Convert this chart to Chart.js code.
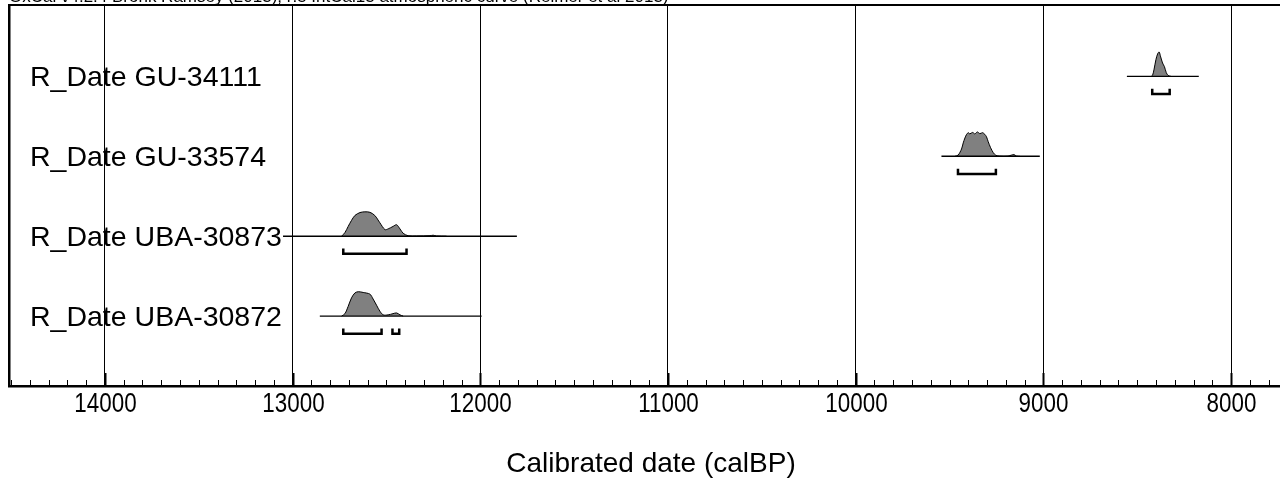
<!DOCTYPE html>
<html>
<head>
<meta charset="utf-8">
<script src="https://cdn.jsdelivr.net/npm/chart.js@4.4.0/dist/chart.umd.min.js"></script>
<style>
  html, body { margin: 0; padding: 0; background: #fff; overflow: hidden; }
  #wrap { position: relative; width: 1293px; height: 485px; }
</style>
</head>
<body>
<div id="wrap"><canvas id="plot"></canvas></div>
<script>

const header = 'OxCal v4.2.4 Bronk Ramsey (2013); r:5 IntCal13 atmospheric curve (Reimer et al 2013)';

// rows bottom -> top
const names = ['R_Date UBA-30872', 'R_Date UBA-30873', 'R_Date GU-33574', 'R_Date GU-34111'];

// extent of the thin baseline for each date (calBP)
const spans = [[12855, 11993], [13051, 11805], [9543, 9019], [8555, 8172]];

// 95.4% ranges (brackets under each distribution)
const ranges = [
	[[12730, 12526], [12468, 12432]],
	[[12730, 12393]],
	[[9455, 9253]],
	[[8420, 8327]]
];

// relative probability, [calBP, p]
const probUBA30872 = [
	[12739, 0], [12721, 0.1], [12704, 0.4], [12686, 0.75], [12668, 0.95], [12650, 1.0],
	[12624, 0.97], [12588, 0.9], [12571, 0.7], [12553, 0.45], [12535, 0.2], [12517, 0.05],
	[12491, 0.05], [12465, 0.1], [12446, 0.13], [12428, 0.05], [12411, 0]
];
const probUBA30873 = [
	[12739, 0], [12721, 0.15], [12704, 0.4], [12686, 0.65], [12668, 0.85], [12641, 0.97],
	[12615, 1.0], [12588, 0.98], [12562, 0.85], [12535, 0.55], [12508, 0.27], [12491, 0.3],
	[12465, 0.4], [12446, 0.47], [12428, 0.3], [12411, 0.12], [12385, 0.02], [12340, 0.01],
	[12268, 0.02], [12251, 0.04], [12234, 0.01], [12180, 0]
];
const probGU33574 = [
	[9471, 0], [9454, 0.05], [9436, 0.3], [9427, 0.55], [9418, 0.75], [9409, 0.9], [9400, 0.97],
	[9392, 0.92], [9377, 0.98], [9365, 0.92], [9352, 1.0], [9338, 0.93], [9324, 0.97],
	[9312, 0.9], [9303, 0.8], [9294, 0.6], [9281, 0.35], [9267, 0.15], [9253, 0.04],
	[9232, 0.01], [9188, 0.01], [9170, 0.05], [9157, 0.07], [9143, 0.01], [9125, 0]
];
const probGU34111 = [
	[8425, 0], [8418, 0.05], [8410, 0.3], [8400, 0.7], [8390, 0.95], [8383, 1.0], [8375, 0.8],
	[8365, 0.55], [8355, 0.4], [8345, 0.15], [8335, 0.04], [8320, 0]
];

const probs = [probUBA30872, probUBA30873, probGU33574, probGU34111];

const peak = 0.305;     // height of a distribution in row units
const brLow = 0.22;     // bracket bar below baseline
const brHigh = 0.155;   // bracket ends

const datasets = [];

probs.forEach( ( prob, i ) => {

	datasets.push({
		data: spans[i].map( x => ({ x: x, y: i }) ),
		borderColor: '#000',
		borderWidth: 1.4,
		pointRadius: 0,
		fill: false
	});

	datasets.push({
		data: prob.map( ( [x, p] ) => ({ x: x, y: i + p * peak }) ),
		borderColor: '#000',
		borderWidth: 1,
		backgroundColor: '#808080',
		pointRadius: 0,
		tension: 0.3,
		fill: { value: i }
	});

	const br = [];
	ranges[i].forEach( ( [a, b] ) => {
		br.push( { x: a, y: i - brHigh }, { x: a, y: i - brLow }, { x: b, y: i - brLow }, { x: b, y: i - brHigh }, { x: b, y: null } );
	});

	datasets.push({
		data: br,
		borderColor: '#000',
		borderWidth: 2.5,
		pointRadius: 0,
		fill: false,
		spanGaps: false
	});

});

const font = '"Liberation Sans", Arial, sans-serif';

// inward ticks, narrow tick labels, row names, top frame line and the clipped header
const frame = {
	id: 'frame',
	afterDraw( chart ) {
		const { ctx, chartArea: a, scales: { x, y } } = chart;
		ctx.save();
		ctx.strokeStyle = '#000';
		ctx.fillStyle = '#000';
		ctx.lineWidth = 2;
		ctx.beginPath();
		ctx.moveTo( a.left, a.top );
		ctx.lineTo( a.right, a.top );
		ctx.stroke();

		ctx.font = '28px ' + font;
		ctx.textAlign = 'center';
		ctx.textBaseline = 'alphabetic';
		for ( const t of x.ticks ) {
			if ( t.value % 100 ) continue;
			const major = t.value % 1000 === 0;
			const px = Math.round( x.getPixelForValue( t.value ) ) + 0.5;
			ctx.lineWidth = major ? 2 : 1;
			ctx.beginPath();
			ctx.moveTo( px, a.bottom );
			ctx.lineTo( px, a.bottom - ( major ? 13 : 6 ) );
			ctx.stroke();
			if ( major ) {
				ctx.save();
				ctx.translate( px, a.bottom + 26 );
				ctx.scale( 0.8, 1 );
				ctx.fillText( t.label || String( t.value ), 0, 0 );
				ctx.restore();
			}
		}

		ctx.font = '28.5px ' + font;
		ctx.textAlign = 'left';
		names.forEach( ( n, i ) => {
			ctx.fillText( n, a.left + 21, y.getPixelForValue( i ) + 9.5 );
		});

		ctx.font = '17px ' + font;
		ctx.fillText( header, 9, 2 );
		ctx.restore();
	}
};

Chart.defaults.font.family = font;
Chart.defaults.color = '#000';

new Chart( document.getElementById('plot'), {
	type: 'line',
	data: { datasets: datasets },
	plugins: [ frame ],
	options: {
		responsive: true,
		maintainAspectRatio: false,
		animation: false,
		layout: {
			padding: { left: 9, top: 5, right: 0, bottom: 0 }
		},
		plugins: {
			legend: { display: false },
			tooltip: { enabled: false }
		},
		scales: {
			x: {
				type: 'linear',
				reverse: true,
				min: 7670,
				max: 14511,
				afterFit: ( s ) => { s.height = 99; },
				border: { color: '#000', width: 2.5 },
				grid: {
					drawTicks: false,
					lineWidth: 1,
					color: ( c ) => ( c.tick && c.tick.value % 1000 === 0 ) ? '#000' : 'rgba(0,0,0,0)'
				},
				ticks: {
					display: false,
					stepSize: 100,
					autoSkip: false,
					includeBounds: false,
					callback: ( v ) => v % 1000 === 0 ? String( v ) : ''
				},
				title: {
					display: true,
					text: 'Calibrated date (calBP)',
					font: { size: 28 },
					padding: { top: 0, bottom: 4 }
				}
			},
			y: {
				type: 'linear',
				min: -0.875,
				max: 3.89375,
				afterFit: ( s ) => { s.width = 0; },
				border: { color: '#000', width: 2.5 },
				grid: { display: false, drawTicks: false },
				ticks: { display: false }
			}
		}
	}
});

</script>
</body>
</html>
